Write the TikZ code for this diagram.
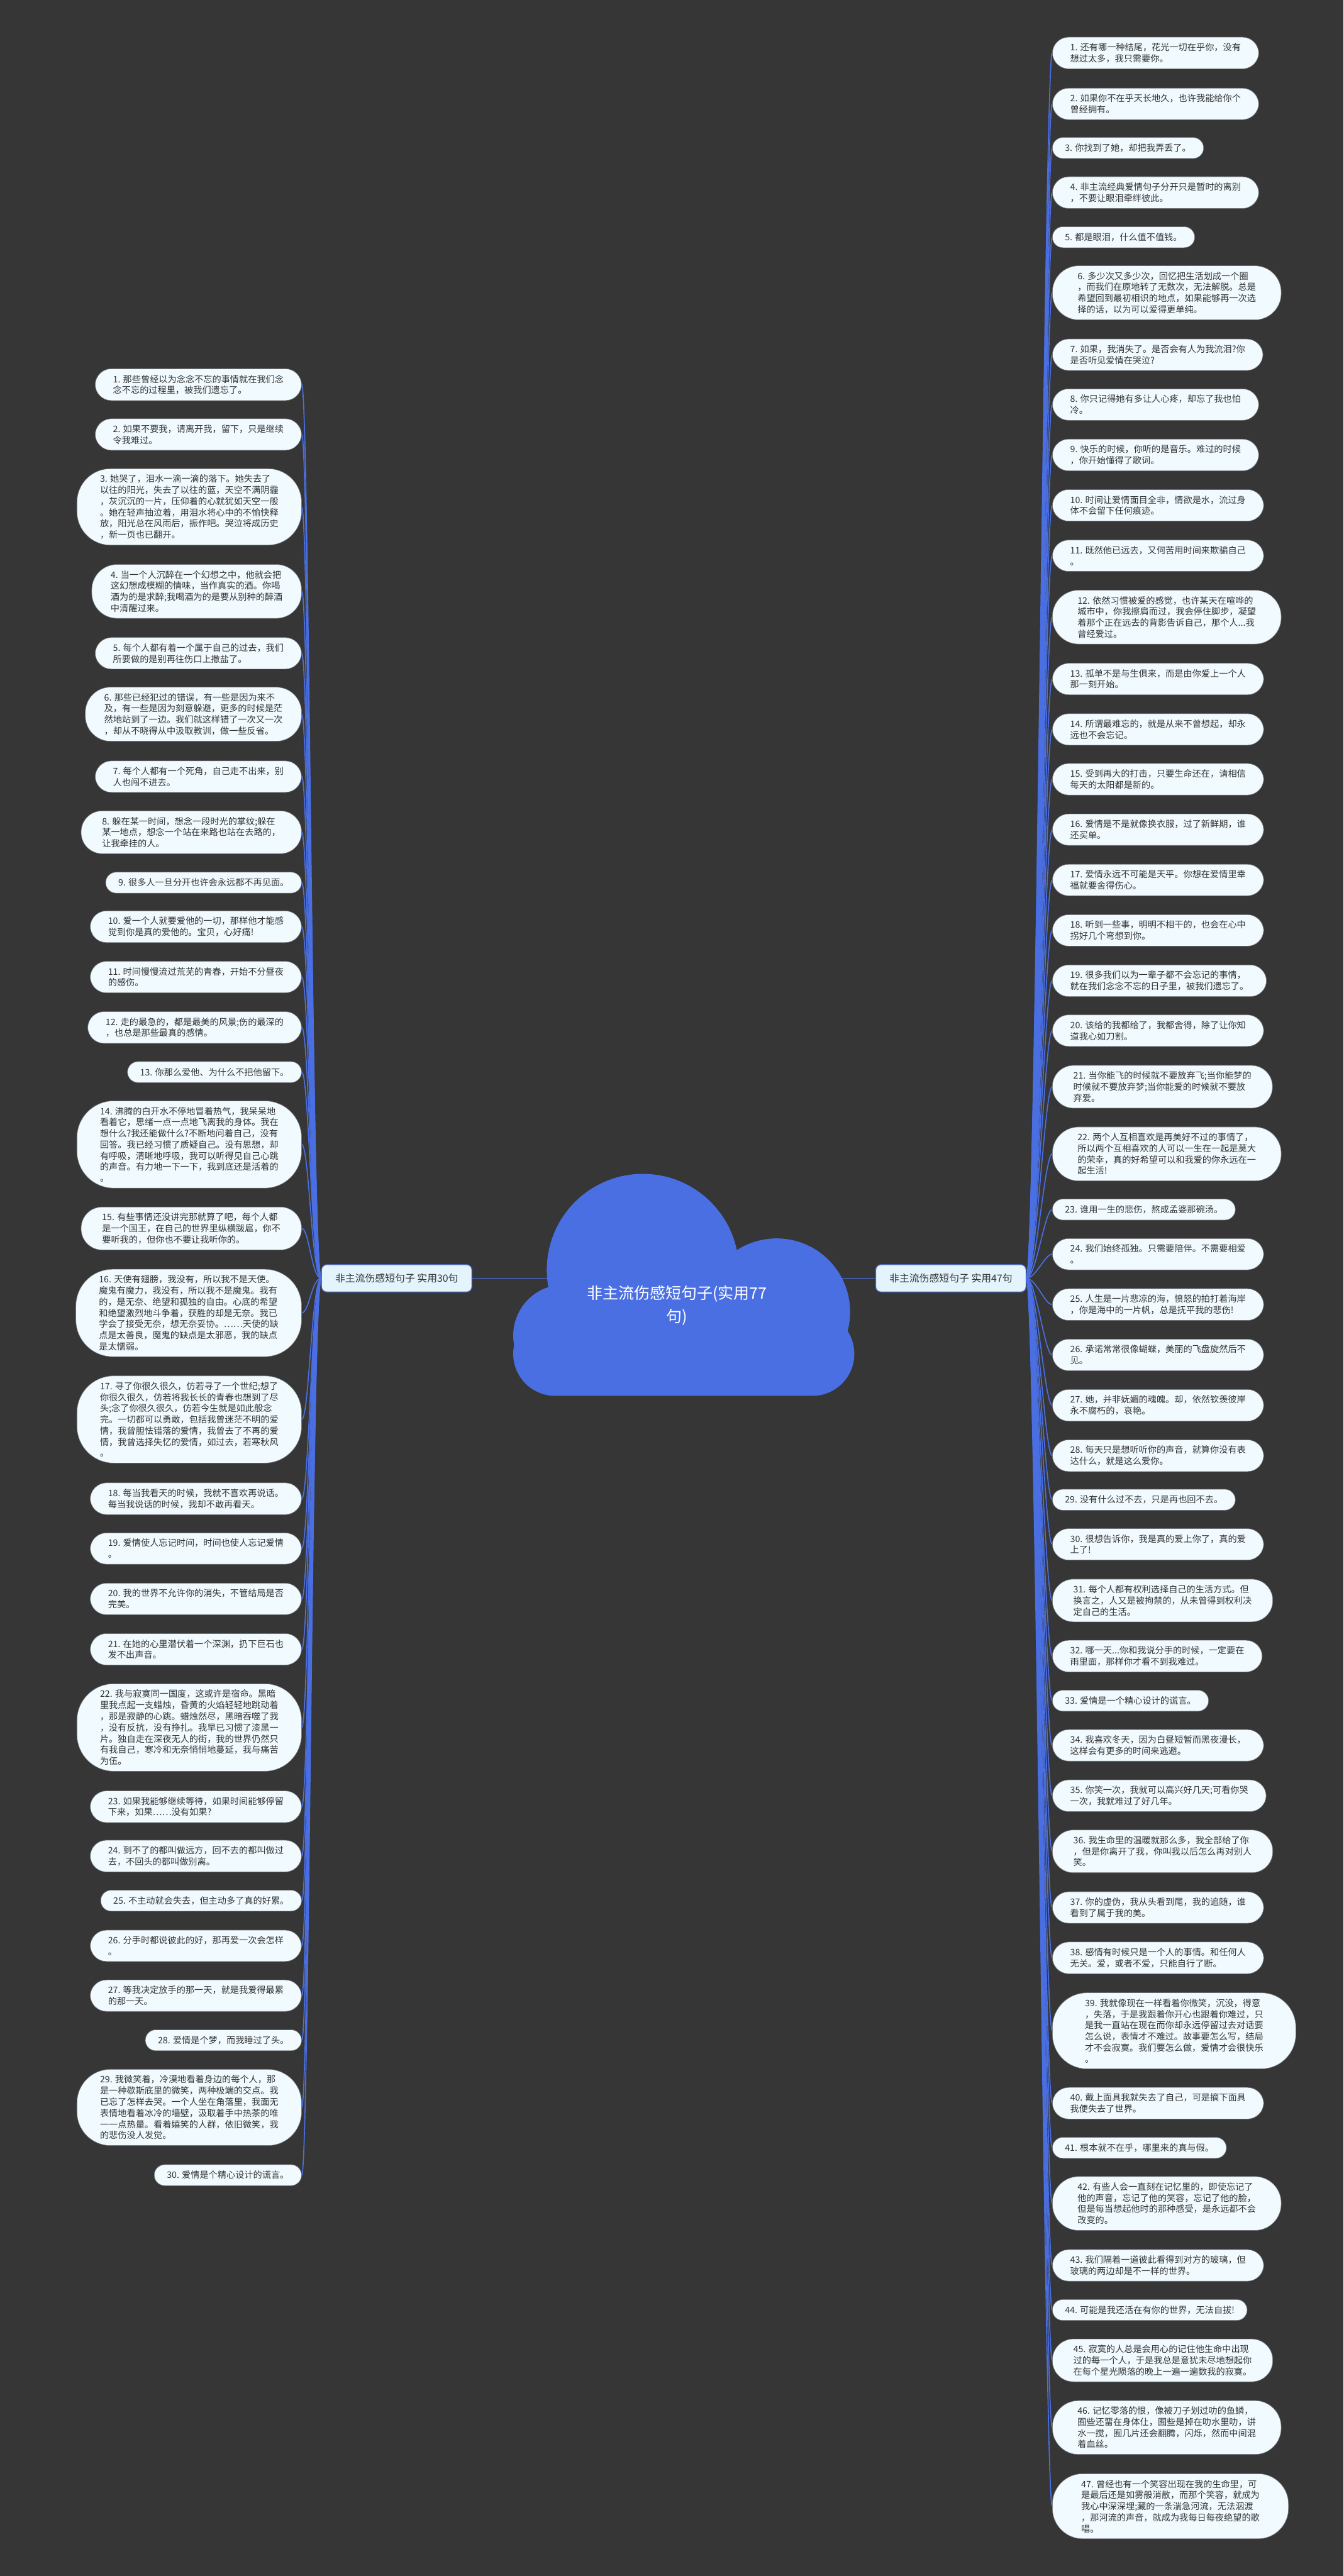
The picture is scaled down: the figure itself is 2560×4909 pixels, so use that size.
\documentclass[tikz,border=0pt]{standalone}
\usepackage{fontspec}
\usepackage{xcolor}
\usepackage{tikz}
\newfontfamily\cjk{Noto Sans CJK SC}
\definecolor{bgdark}{HTML}{363636}
\definecolor{mapblue}{HTML}{4A6FE3}
\definecolor{leafbg}{HTML}{F0FAFF}
\definecolor{branchbg}{HTML}{E3F4FC}
\definecolor{txtgrey}{HTML}{333333}

\begin{document}
\begin{tikzpicture}[
    x=1pt, y=-1pt,
    leaf/.style={draw=black!55, line width=0.8pt, fill=leafbg, text=txtgrey,
                 font=\cjk\fontsize{17pt}{21.3pt}\selectfont, align=left,
                 inner ysep=11.5pt, minimum height=40pt},
    b1/.style={leaf, inner xsep=24pt, rounded corners=20pt},
    b2/.style={leaf, inner xsep=34pt, rounded corners=31pt},
    b3/.style={leaf, inner xsep=40pt, rounded corners=40pt},
    b4/.style={leaf, inner xsep=48pt, rounded corners=50pt},
    b5/.style={leaf, inner xsep=55pt, rounded corners=58pt},
    b6/.style={leaf, inner xsep=62pt, rounded corners=66pt},
    b4n/.style={leaf, inner xsep=36pt, rounded corners=48pt},
    b6n/.style={leaf, inner xsep=44pt, rounded corners=64pt},
    b7n/.style={leaf, inner xsep=44pt, rounded corners=70pt},
    branch/.style={draw=mapblue, line width=1.5pt, fill=branchbg, text=txtgrey,
                   rounded corners=10pt, inner xsep=26pt, minimum height=52pt,
                   font=\cjk\fontsize{19pt}{23pt}\selectfont},
    link/.style={draw=mapblue, line width=2pt},
]

% --- dark page ---
\fill[bgdark] (0,0) rectangle (2560,4909);

% --- centre cloud ---
\begin{scope}[fill=mapblue]
  \fill[rounded corners=80pt] (978,2500) rectangle (1628,2660);
  \fill (1225,2420) circle (183);
  \fill (1480,2500) circle (140);
  \fill (1075,2545) circle (97);
\end{scope}
\node[text=white, align=center, font=\cjk\fontsize{30pt}{44pt}\selectfont]
    (root) at (1290,2488) {非主流伤感短句子(实用77\\句)};
\coordinate (rootw) at (1045,2436);
\coordinate (roote) at (1604,2436);

% --- the two branches ---
\node[branch] (lbr) at (756,2436) {非主流伤感短句子 实用30句};
\node[branch] (rbr) at (1812,2436) {非主流伤感短句子 实用47句};

% --- left leaves (right edges line up) ---
\begin{scope}[every node/.append style={anchor=east}]
\node[b2] (l1) at (575,733) {1. 那些曾经以为念念不忘的事情就在我们念\\念不忘的过程里，被我们遗忘了。};
\node[b2] (l2) at (575,828) {2. 如果不要我，请离开我，留下，只是继续\\令我难过。};
\node[b6n] (l3) at (575,966) {3. 她哭了，泪水一滴一滴的落下。她失去了\\以往的阳光，失去了以往的蓝，天空不满阴霾\\，灰沉沉的一片，压仰着的心就犹如天空一般\\。她在轻声抽泣着，用泪水将心中的不愉快释\\放，阳光总在风雨后，振作吧。哭泣将成历史\\，新一页也已翻开。};
\node[b4n] (l4) at (575,1127) {4. 当一个人沉醉在一个幻想之中，他就会把\\这幻想成模糊的情味，当作真实的酒。你喝\\酒为的是求醉;我喝酒为的是要从别种的醉酒\\中清醒过来。};
\node[b2] (l5) at (575,1245) {5. 每个人都有着一个属于自己的过去，我们\\所要做的是别再往伤口上撒盐了。};
\node[b4n] (l6) at (575,1361) {6. 那些已经犯过的错误，有一些是因为来不\\及，有一些是因为刻意躲避，更多的时候是茫\\然地站到了一边。我们就这样错了一次又一次\\，却从不晓得从中汲取教训，做一些反省。};
\node[b2] (l7) at (575,1480) {7. 每个人都有一个死角，自己走不出来，别\\人也闯不进去。};
\node[b3] (l8) at (575,1586) {8. 躲在某一时间，想念一段时光的掌纹;躲在\\某一地点，想念一个站在来路也站在去路的，\\让我牵挂的人。};
\node[b1] (l9) at (575,1682) {9. 很多人一旦分开也许会永远都不再见面。};
\node[b2] (l10) at (575,1766) {10. 爱一个人就要爱他的一切，那样他才能感\\觉到你是真的爱他的。宝贝，心好痛!};
\node[b2] (l11) at (575,1862) {11. 时间慢慢流过荒芜的青春，开始不分昼夜\\的感伤。};
\node[b2] (l12) at (575,1958) {12. 走的最急的，都是最美的风景;伤的最深的\\，也总是那些最真的感情。};
\node[b1] (l13) at (575,2043) {13. 你那么爱他、为什么不把他留下。};
\node[b7n] (l14) at (575,2181) {14. 沸腾的白开水不停地冒着热气，我呆呆地\\看着它，思绪一点一点地飞离我的身体。我在\\想什么?我还能做什么?不断地问着自己，没有\\回答。我已经习惯了质疑自己。没有思想，却\\有呼吸，清晰地呼吸，我可以听得见自己心跳\\的声音。有力地一下一下，我到底还是活着的\\。};
\node[b3] (l15) at (575,2341) {15. 有些事情还没讲完那就算了吧，每个人都\\是一个国王，在自己的世界里纵横跋扈，你不\\要听我的，但你也不要让我听你的。};
\node[b7n] (l16) at (575,2502) {16. 天使有翅膀，我没有，所以我不是天使。\\魔鬼有魔力，我没有，所以我不是魔鬼。我有\\的，是无奈、绝望和孤独的自由。心底的希望\\和绝望激烈地斗争着，获胜的却是无奈。我已\\学会了接受无奈，想无奈妥协。……天使的缺\\点是太善良，魔鬼的缺点是太邪恶，我的缺点\\是太懦弱。};
\node[b7n] (l17) at (575,2705) {17. 寻了你很久很久，仿若寻了一个世纪;想了\\你很久很久，仿若将我长长的青春也想到了尽\\头;念了你很久很久，仿若今生就是如此般念\\完。一切都可以勇敢，包括我曾迷茫不明的爱\\情，我曾胆怯错落的爱情，我曾去了不再的爱\\情，我曾选择失忆的爱情，如过去，若寒秋风\\。};
\node[b2] (l18) at (575,2856) {18. 每当我看天的时候，我就不喜欢再说话。\\每当我说话的时候，我却不敢再看天。};
\node[b2] (l19) at (575,2951) {19. 爱情使人忘记时间，时间也使人忘记爱情\\。};
\node[b2] (l20) at (575,3047) {20. 我的世界不允许你的消失，不管结局是否\\完美。};
\node[b2] (l21) at (575,3143) {21. 在她的心里潜伏着一个深渊，扔下巨石也\\发不出声音。};
\node[b7n] (l22) at (575,3292) {22. 我与寂寞同一国度，这或许是宿命。黑暗\\里我点起一支蜡烛，昏黄的火焰轻轻地跳动着\\，那是寂静的心跳。蜡烛然尽，黑暗吞噬了我\\，没有反抗，没有挣扎。我早已习惯了漆黑一\\片。独自走在深夜无人的街，我的世界仍然只\\有我自己，寒冷和无奈悄悄地蔓延，我与痛苦\\为伍。};
\node[b2] (l23) at (575,3443) {23. 如果我能够继续等待，如果时间能够停留\\下来，如果……没有如果?};
\node[b2] (l24) at (575,3537) {24. 到不了的都叫做远方，回不去的都叫做过\\去，不回头的都叫做别离。};
\node[b1] (l25) at (575,3622) {25. 不主动就会失去，但主动多了真的好累。};
\node[b2] (l26) at (575,3708) {26. 分手时都说彼此的好，那再爱一次会怎样\\。};
\node[b2] (l27) at (575,3803) {27. 等我决定放手的那一天，就是我爱得最累\\的那一天。};
\node[b1] (l28) at (575,3888) {28. 爱情是个梦，而我睡过了头。};
\node[b6n] (l29) at (575,4016) {29. 我微笑着，冷漠地看着身边的每个人，那\\是一种歇斯底里的微笑，两种极端的交点。我\\已忘了怎样去哭。一个人坐在角落里，我面无\\表情地看着冰冷的墙壁，汲取着手中热茶的唯\\一一点热量。看着嬉笑的人群，依旧微笑，我\\的悲伤没人发觉。};
\node[b1] (l30) at (575,4145) {30. 爱情是个精心设计的谎言。};
\end{scope}

% --- right leaves (left edges line up) ---
\begin{scope}[every node/.append style={anchor=west}]
\node[b2] (r1) at (2005,101) {1. 还有哪一种结尾，花光一切在乎你，没有\\想过太多，我只需要你。};
\node[b2] (r2) at (2005,198) {2. 如果你不在乎天长地久，也许我能给你个\\曾经拥有。};
\node[b1] (r3) at (2005,282) {3. 你找到了她，却把我弄丢了。};
\node[b2] (r4) at (2005,367) {4. 非主流经典爱情句子分开只是暂时的离别\\，不要让眼泪牵绊彼此。};
\node[b1] (r5) at (2005,452) {5. 都是眼泪，什么值不值钱。};
\node[b4] (r6) at (2005,558) {6. 多少次又多少次，回忆把生活划成一个圈\\，而我们在原地转了无数次，无法解脱。总是\\希望回到最初相识的地点，如果能够再一次选\\择的话，以为可以爱得更单纯。};
\node[b2] (r7) at (2005,676) {7. 如果，我消失了。是否会有人为我流泪?你\\是否听见爱情在哭泣?};
\node[b2] (r8) at (2005,771) {8. 你只记得她有多让人心疼，却忘了我也怕\\冷。};
\node[b2] (r9) at (2005,867) {9. 快乐的时候，你听的是音乐。难过的时候\\，你开始懂得了歌词。};
\node[b2] (r10) at (2005,963) {10. 时间让爱情面目全非，情欲是水，流过身\\体不会留下任何痕迹。};
\node[b2] (r11) at (2005,1059) {11. 既然他已远去，又何苦用时间来欺骗自己\\。};
\node[b4] (r12) at (2005,1176) {12. 依然习惯被爱的感觉，也许某天在喧哗的\\城市中，你我擦肩而过，我会停住脚步，凝望\\着那个正在远去的背影告诉自己，那个人...我\\曾经爱过。};
\node[b2] (r13) at (2005,1294) {13. 孤单不是与生俱来，而是由你爱上一个人\\那一刻开始。};
\node[b2] (r14) at (2005,1390) {14. 所谓最难忘的，就是从来不曾想起，却永\\远也不会忘记。};
\node[b2] (r15) at (2005,1485) {15. 受到再大的打击，只要生命还在，请相信\\每天的太阳都是新的。};
\node[b2] (r16) at (2005,1581) {16. 爱情是不是就像换衣服，过了新鲜期，谁\\还买单。};
\node[b2] (r17) at (2005,1677) {17. 爱情永远不可能是天平。你想在爱情里幸\\福就要舍得伤心。};
\node[b2] (r18) at (2005,1773) {18. 听到一些事，明明不相干的，也会在心中\\拐好几个弯想到你。};
\node[b2] (r19) at (2005,1869) {19. 很多我们以为一辈子都不会忘记的事情，\\就在我们念念不忘的日子里，被我们遗忘了。};
\node[b2] (r20) at (2005,1964) {20. 该给的我都给了，我都舍得，除了让你知\\道我心如刀割。};
\node[b3] (r21) at (2005,2071) {21. 当你能飞的时候就不要放弃飞;当你能梦的\\时候就不要放弃梦;当你能爱的时候就不要放\\弃爱。};
\node[b4] (r22) at (2005,2199) {22. 两个人互相喜欢是再美好不过的事情了，\\所以两个互相喜欢的人可以一生在一起是莫大\\的荣幸，真的好希望可以和我爱的你永远在一\\起生活!};
\node[b1] (r23) at (2005,2305) {23. 谁用一生的悲伤，熬成孟婆那碗汤。};
\node[b2] (r24) at (2005,2390) {24. 我们始终孤独。只需要陪伴。不需要相爱\\。};
\node[b2] (r25) at (2005,2486) {25. 人生是一片悲凉的海，愤怒的拍打着海岸\\，你是海中的一片帆，总是抚平我的悲伤!};
\node[b2] (r26) at (2005,2582) {26. 承诺常常很像蝴蝶，美丽的飞盘旋然后不\\见。};
\node[b2] (r27) at (2005,2678) {27. 她，并非妩媚的魂魄。却，依然钦羡彼岸\\永不腐朽的，哀艳。};
\node[b2] (r28) at (2005,2774) {28. 每天只是想听听你的声音，就算你没有表\\达什么，就是这么爱你。};
\node[b1] (r29) at (2005,2858) {29. 没有什么过不去，只是再也回不去。};
\node[b2] (r30) at (2005,2943) {30. 很想告诉你，我是真的爱上你了，真的爱\\上了!};
\node[b3] (r31) at (2005,3050) {31. 每个人都有权利选择自己的生活方式。但\\换言之，人又是被拘禁的，从未曾得到权利决\\定自己的生活。};
\node[b2] (r32) at (2005,3156) {32. 哪一天...你和我说分手的时候，一定要在\\雨里面，那样你才看不到我难过。};
\node[b1] (r33) at (2005,3241) {33. 爱情是一个精心设计的谎言。};
\node[b2] (r34) at (2005,3326) {34. 我喜欢冬天，因为白昼短暂而黑夜漫长，\\这样会有更多的时间来逃避。};
\node[b2] (r35) at (2005,3422) {35. 你笑一次，我就可以高兴好几天;可看你哭\\一次，我就难过了好几年。};
\node[b3] (r36) at (2005,3528) {36. 我生命里的温暖就那么多，我全部给了你\\，但是你离开了我，你叫我以后怎么再对别人\\笑。};
\node[b2] (r37) at (2005,3635) {37. 你的虚伪，我从头看到尾，我的追随，谁\\看到了属于我的美。};
\node[b2] (r38) at (2005,3731) {38. 感情有时候只是一个人的事情。和任何人\\无关。爱，或者不爱，只能自行了断。};
\node[b6] (r39) at (2005,3870) {39. 我就像现在一样看着你微笑，沉没，得意\\，失落，于是我跟着你开心也跟着你难过，只\\是我一直站在现在而你却永远停留过去对话要\\怎么说，表情才不难过。故事要怎么写，结局\\才不会寂寞。我们要怎么做，爱情才会很快乐\\。};
\node[b2] (r40) at (2005,4008) {40. 戴上面具我就失去了自己，可是摘下面具\\我便失去了世界。};
\node[b1] (r41) at (2005,4093) {41. 根本就不在乎，哪里来的真与假。};
\node[b4] (r42) at (2005,4199) {42. 有些人会一直刻在记忆里的，即使忘记了\\他的声音，忘记了他的笑容，忘记了他的脸，\\但是每当想起他时的那种感受，是永远都不会\\改变的。};
\node[b2] (r43) at (2005,4317) {43. 我们隔着一道彼此看得到对方的玻璃，但\\玻璃的两边却是不一样的世界。};
\node[b1] (r44) at (2005,4402) {44. 可能是我还活在有你的世界，无法自拔!};
\node[b3] (r45) at (2005,4498) {45. 寂寞的人总是会用心的记住他生命中出现\\过的每一个人，于是我总是意犹未尽地想起你\\在每个星光陨落的晚上一遍一遍数我的寂寞。};
\node[b4] (r46) at (2005,4626) {46. 记忆零落的恨，像被刀子划过叻的鱼鳞，\\囿些还畱在身体仩，囿些是掉在叻水里叻，讲\\水一搅，囿几片还会翻腾，闪烁，然而中间混\\着血丝。};
\node[b5] (r47) at (2005,4776) {47. 曾经也有一个笑容出现在我的生命里，可\\是最后还是如雾般消散，而那个笑容，就成为\\我心中深深埋;藏的一条湍急河流，无法泅渡\\，那河流的声音，就成为我每日每夜绝望的歌\\唱。};
\end{scope}

% ============== connectors ==============
\draw[link] (lbr.east) -- (rootw);
\draw[link] (rbr.west) -- (roote);
\foreach \i in {1,...,30}
  \draw[link] (lbr.west) .. controls +(-18,0) and +(14,0) .. (l\i.east);
\foreach \i in {1,...,47}
  \draw[link] (rbr.east) .. controls +(18,0) and +(-14,0) .. (r\i.west);

\end{tikzpicture}
\end{document}
